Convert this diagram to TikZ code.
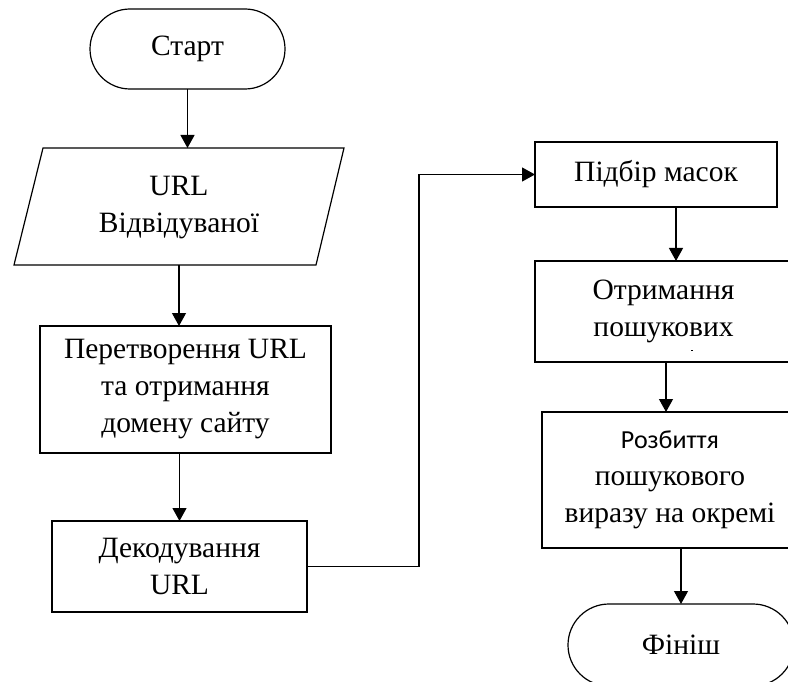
\documentclass[tikz,border=0pt]{standalone}
\usepackage{fontspec}
\setmainfont{Liberation Serif}
\newfontfamily\sansalt{Carlito}
\usetikzlibrary{arrows.meta}
\begin{document}
\begin{tikzpicture}[x=1pt,y=-1pt,line width=1.2pt,
  box/.style={draw,rectangle,inner sep=0pt,outer sep=0pt,align=center,
    font=\fontsize{29.5}{37}\selectfont},
  term/.style={box,rounded corners=40pt},
  arr/.style={-{Triangle[width=14pt,length=13pt]}}]
\useasboundingbox (0,0) rectangle (788,682);
\clip (0,0) rectangle (788,682);
% left column
\node[term,minimum width=195pt,minimum height=80pt] (start) at (187.5,49) {Старт};
\draw (43,148) -- (344,148) -- (316,265) -- (14,265) -- cycle;
\node[box,draw=none,minimum width=300pt,minimum height=117pt] (input) at (179,206.5)
  {\raisebox{-5pt}{\begin{tabular}{@{}c@{}}URL\\Відвідуваної\end{tabular}}};
\node[box,minimum width=291pt,minimum height=127pt] (proc) at (185.5,389.5) {Перетворення URL\\та отримання\\домену сайту};
\node[box,minimum width=255pt,minimum height=91pt] (decode) at (179.5,566.5) {Декодування\\URL};
% right column
\node[box,minimum width=242pt,minimum height=65pt] (masks) at (656,174.5) {Підбір масок};
\node[box,minimum width=257pt,minimum height=101pt] (get) at (663.5,311.5) {Отримання\\пошукових};
\fill (691,349.5) rectangle (693,350.8);
\node[box,minimum width=256pt,minimum height=136pt] (split) at (670,480) {{\sansalt\fontsize{26}{37}\selectfont Розбиття}\\пошукового\\виразу на окремі};
\node[term,rounded corners=41pt,minimum width=226pt,minimum height=82pt] (finish) at (681,645) {Фініш};
% connectors
\draw[arr] (start.south) -- (start.south |- input.north);
\draw[arr] (input.south) -- (input.south |- proc.north);
\draw[arr] (decode.north |- proc.south) -- (decode.north);
\draw[arr] (decode.east) -- ++(112,0) |- (masks.west);
\draw[arr] ([xshift=20pt]masks.south) -- ([xshift=20pt]masks.south |- get.north);
\draw[arr] ([xshift=-4pt]split.north |- get.south) -- ([xshift=-4pt]split.north);
\draw[arr] (finish.north |- split.south) -- (finish.north);
\end{tikzpicture}
\end{document}
